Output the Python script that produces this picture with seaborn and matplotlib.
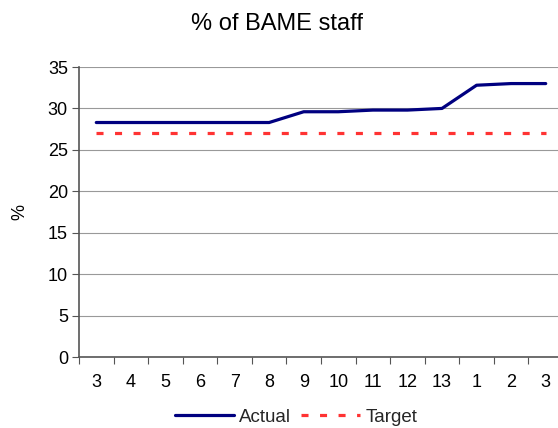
import matplotlib
matplotlib.use("Agg")
import matplotlib.pyplot as plt
import seaborn as sns
import pandas as pd
import numpy as np

months = ["3", "4", "5", "6", "7", "8", "9", "10", "11", "12", "13", "1", "2", "3"]
actual = [28.3, 28.3, 28.3, 28.3, 28.3, 28.3, 29.6, 29.6, 29.8, 29.8, 30.0, 32.8, 33.0, 33.0]
target = [27, 27, 27, 27, 27, 27, 27, 27, 27, 27, 27, 27, 27, 27]

sns.set_theme(style="white")
plt.rcParams['font.family'] = ['Liberation Sans', 'DejaVu Sans']

pos = np.arange(len(months))
df = pd.DataFrame({"pos": pos, "Actual": actual, "Target": target})

fig = plt.figure(figsize=(5.58, 4.28), dpi=100)
ax = fig.add_axes([79/558, 1 - 357/428, 484/558, 290/428])

sns.lineplot(data=df, x="pos", y="Actual", ax=ax, color="#000080", lw=2.3, label="Actual")
sns.lineplot(data=df, x="pos", y="Target", ax=ax, color="#FF3333", lw=2.3,
             label="Target", dashes=False)
ax.lines[1].set_dashes([2.2, 3.6])

ax.set_xlim(-0.5, len(months) - 0.5)
ax.set_ylim(0, 35)
ax.set_yticks(range(0, 36, 5))
ax.yaxis.grid(True, color="#999999", lw=0.8)
ax.xaxis.grid(False)
ax.set_xticks(pos)
ax.set_xticklabels(months, fontsize=13, color="black")
ax.set_xticks(np.arange(-0.5, len(months), 1), minor=True)
ax.tick_params(axis="x", which="major", length=0, pad=12)
ax.tick_params(axis="x", which="minor", length=5, width=0.8, color="#555555", direction="out", bottom=True)
ax.tick_params(axis="y", length=5, width=0.8, color="#555555", direction="out", left=True,
               labelsize=13, labelcolor="black", pad=3)

for s in ["top", "right"]:
    ax.spines[s].set_visible(False)
for s in ["left", "bottom"]:
    ax.spines[s].set_color("#555555")
    ax.spines[s].set_linewidth(1.2)

ax.set_xlabel("")
ax.set_ylabel("%", fontsize=13, color="black", labelpad=14)
fig.text(277/558, 1 - 24/428, "% of BAME staff", fontsize=17, color="black",
         ha="center", va="center")

leg = ax.legend(loc="center", bbox_to_anchor=(296/558, 1 - 417/428), bbox_transform=fig.transFigure,
                ncol=2, frameon=False, fontsize=13.5, handlelength=3.15, handletextpad=0.27,
                columnspacing=0.55, borderpad=0)

fig.savefig("out.png", dpi=100)
